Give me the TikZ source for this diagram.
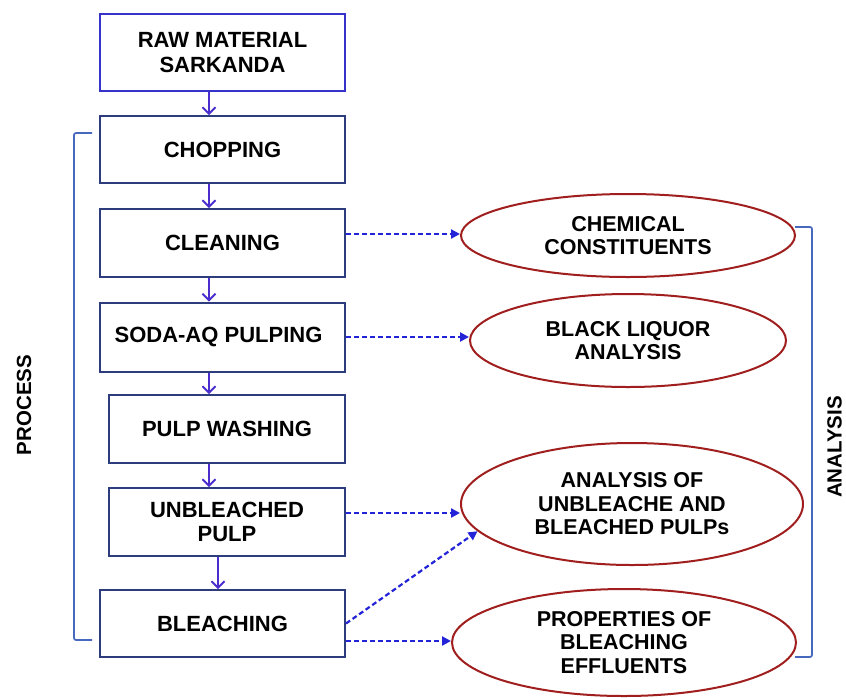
\documentclass[tikz,border=0pt]{standalone}
\usepackage{fontspec}
\setmainfont{Liberation Sans}
\usetikzlibrary{shapes.geometric,arrows.meta,calc}
\definecolor{boxnavy}{RGB}{45,60,125}
\definecolor{rawblue}{RGB}{55,50,200}
\definecolor{flowpurple}{RGB}{75,45,205}
\definecolor{dashblue}{RGB}{35,35,215}
\definecolor{ellred}{RGB}{160,30,30}
\definecolor{brblue}{RGB}{70,105,190}
\tikzset{
  procbox/.style={draw=boxnavy, line width=2pt, rectangle, minimum width=245pt, inner sep=0pt,
    align=center, font=\fontsize{22}{24.5}\selectfont\bfseries},
  anellipse/.style={draw=ellred, line width=2pt, ellipse, inner sep=0pt,
    align=center, font=\fontsize{21.5}{23.5}\selectfont\bfseries},
  flowarrow/.style={draw=flowpurple, line width=1.8pt, -{Straight Barb[length=6.5pt,width=13pt,line width=1.8pt]}},
  dasharrow/.style={draw=dashblue, line width=2.2pt, dash pattern=on 5pt off 3pt, -{Triangle[length=9pt,width=9pt]}},
  bracketline/.style={draw=brblue, line width=1.7pt, rounded corners=2pt},
  sidelabel/.style={rotate=90, font=\fontsize{20.5}{24}\selectfont\bfseries}
}
\begin{document}
\begin{tikzpicture}[x=1pt,y=-1pt]
\useasboundingbox (0,0) rectangle (846,697);
% process boxes
\node[procbox, draw=rawblue, minimum height=77pt] (raw) at (222.5,52.5) {RAW MATERIAL\\SARKANDA};
\node[procbox, minimum height=67pt] (chop) at (222.5,149.5) {CHOPPING};
\node[procbox, minimum height=68pt] (clean) at (222.5,243) {CLEANING};
\node[procbox, minimum height=69pt] (soda) at (222.5,337) {SODA-AQ PULPING\hspace*{8pt}};
\node[procbox, minimum width=236pt, minimum height=68pt] (wash) at (227,429) {PULP WASHING};
\node[procbox, minimum width=236pt, minimum height=68pt] (unbl) at (227,522) {UNBLEACHED\\PULP};
\node[procbox, minimum height=67pt] (bleach) at (222.5,623.5) {BLEACHING};
% analysis ellipses
\node[anellipse, minimum width=334pt, minimum height=83pt] (e1) at (628,235.5) {CHEMICAL\\CONSTITUENTS};
\node[anellipse, minimum width=316pt, minimum height=93pt] (e2) at (628,340.5) {BLACK LIQUOR\\ANALYSIS};
\node[anellipse, minimum width=342pt, minimum height=122pt] (e3) at (632,504) {ANALYSIS OF\\UNBLEACHE AND\\BLEACHED PULPs};
\node[anellipse, minimum width=344pt, minimum height=107pt] (e4) at (624,642.5) {PROPERTIES OF\\BLEACHING\\EFFLUENTS};
% solid flow arrows
\draw[flowarrow] ([xshift=-13.5pt]raw.south) -- ([xshift=-13.5pt]chop.north);
\draw[flowarrow] ([xshift=-13.5pt]chop.south) -- ([xshift=-13.5pt]clean.north);
\draw[flowarrow] ([xshift=-13.5pt]clean.south) -- ([xshift=-13.5pt]soda.north);
\draw[flowarrow] ([xshift=-13.5pt]soda.south) -- ([xshift=-18pt]wash.north);
\draw[flowarrow] ([xshift=-18pt]wash.south) -- ([xshift=-18pt]unbl.north);
\draw[flowarrow] ([xshift=-9pt]unbl.south) -- ([xshift=-9pt]unbl.south |- bleach.north);
% dashed arrows
\draw[dasharrow] ([yshift=9pt]clean.east) -- ([yshift=9pt]clean.east -| e1.west);
\draw[dasharrow] (soda.east) -- (soda.east -| e2.west);
\draw[dasharrow] ([yshift=9pt]unbl.east) -- ([yshift=9pt]unbl.east -| e3.west);
\draw[dasharrow] (bleach.east) -- (e3.190);
\draw[dasharrow] ([yshift=-17.5pt]bleach.east) -- ([yshift=-17.5pt]bleach.east -| e4.west);
% brackets
\coordinate (lbt) at (92,133);
\coordinate (lbb) at (92,640);
\draw[bracketline] (lbt) -- (74,133) -- (74,640) -- (lbb);
\coordinate (rbt) at (795,227);
\coordinate (rbb) at (795,657);
\draw[bracketline] (rbt) -- (812,227) -- (812,657) -- (rbb);
% side labels
\node[sidelabel] (proc) at (24,405) {PROCESS};
\node[sidelabel] (anal) at (834.5,447) {ANALYSIS};
\end{tikzpicture}
\end{document}
